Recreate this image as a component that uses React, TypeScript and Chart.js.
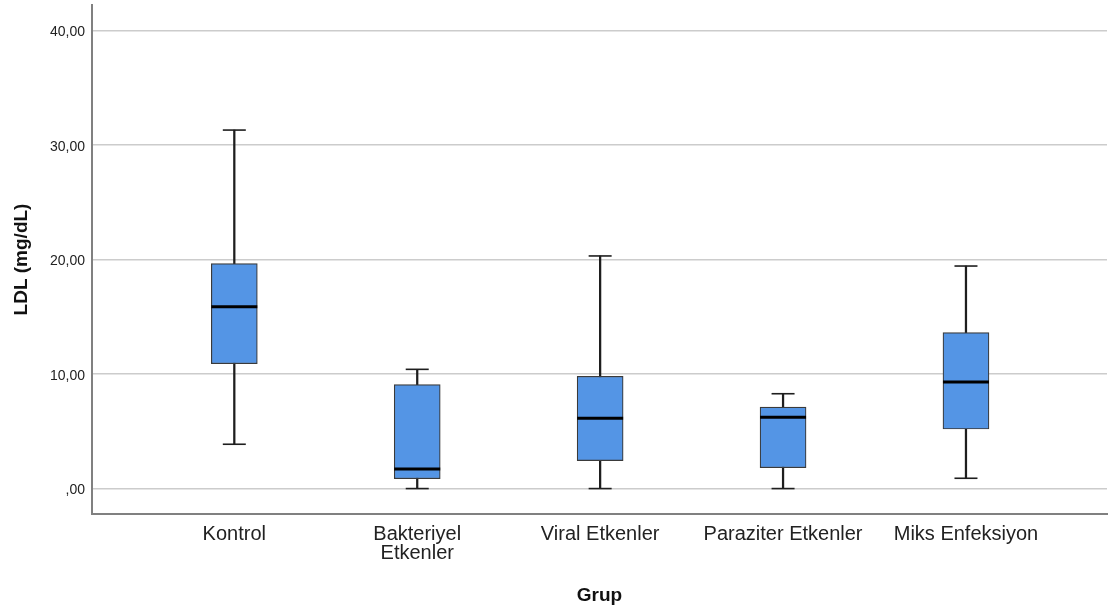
import React, { useEffect, useRef } from "react";
import { Chart, registerables } from "chart.js";

Chart.register(...registerables);

const CATEGORIES = ["Kontrol", "Bakteriyel\nEtkenler", "Viral Etkenler", "Paraziter Etkenler", "Miks Enfeksiyon"];
const MIN_VALUES = [3.87, 0, 0, 0, 0.9];
const Q1_VALUES = [10.9, 0.86, 2.44, 1.82, 5.2];
const MEDIAN_VALUES = [15.88, 1.71, 6.14, 6.22, 9.31];
const Q3_VALUES = [19.64, 9.07, 9.8, 7.12, 13.61];
const MAX_VALUES = [31.3, 10.41, 20.31, 8.28, 19.43];
const Y_TICKS = [0, 10, 20, 30, 40];
const Y_TICK_LABELS = [",00", "10,00", "20,00", "30,00", "40,00"];

const BOX_WIDTH = 46;
const CAP_WIDTH = 23;
const TEXT_COLOR = "#222222";
const FONT = "'Liberation Sans', Arial, sans-serif";

const boxExtras = {
  id: "boxExtras",
  afterDatasetsDraw(chart: any) {
    const { ctx } = chart;
    const x = chart.scales.x;
    const y = chart.scales.y;
    ctx.save();
    CATEGORIES.forEach((_, i) => {
      const px = x.getPixelForValue(i);
      ctx.strokeStyle = "#1e1e1e";
      ctx.lineWidth = 1.6;
      [MIN_VALUES[i], MAX_VALUES[i]].forEach((v) => {
        const py = y.getPixelForValue(v);
        ctx.beginPath();
        ctx.moveTo(px - CAP_WIDTH / 2, py);
        ctx.lineTo(px + CAP_WIDTH / 2, py);
        ctx.stroke();
      });
      const my = y.getPixelForValue(MEDIAN_VALUES[i]);
      ctx.strokeStyle = "#000000";
      ctx.lineWidth = 3;
      ctx.beginPath();
      ctx.moveTo(px - BOX_WIDTH / 2, my);
      ctx.lineTo(px + BOX_WIDTH / 2, my);
      ctx.stroke();
    });
    ctx.restore();
  },
};

export default function App() {
  const ref = useRef<HTMLCanvasElement | null>(null);

  useEffect(() => {
    if (!ref.current) return;
    const chart = new Chart(ref.current, {
      type: "bar",
      data: {
        datasets: [
          {
            label: "box",
            data: CATEGORIES.map((_, i) => ({ x: i, y: [Q1_VALUES[i], Q3_VALUES[i]] })) as any,
            backgroundColor: "#5495e5",
            borderColor: "#3a3a3a",
            borderWidth: 1.2,
            borderSkipped: false,
            barThickness: BOX_WIDTH,
            grouped: false,
            order: 0,
          },
          {
            label: "whisker",
            data: CATEGORIES.map((_, i) => ({ x: i, y: [MIN_VALUES[i], MAX_VALUES[i]] })) as any,
            backgroundColor: "#1e1e1e",
            borderWidth: 0,
            barThickness: 1.6,
            grouped: false,
            order: 1,
          },
        ],
      },
      options: {
        responsive: false,
        animation: false,
        layout: { padding: { top: 5, right: 3, left: 0, bottom: 0 } },
        plugins: {
          legend: { display: false },
          tooltip: { enabled: false },
        },
        scales: {
          x: {
            type: "linear",
            offset: false,
            min: -0.778,
            max: 4.771,
            afterBuildTicks: (scale: any) => {
              scale.ticks = CATEGORIES.map((_, i) => ({ value: i }));
            },
            afterFit: (scale: any) => {
              scale.height = 92;
              scale.paddingLeft = 0;
              scale.paddingRight = 0;
            },
            grid: { display: false, drawTicks: false, offset: false },
            border: { display: true, color: "#808080", width: 2 },
            ticks: {
              autoSkip: false,
              maxRotation: 0,
              minRotation: 0,
              padding: 11,
              color: TEXT_COLOR,
              font: { family: FONT, size: 20, lineHeight: 0.95 },
              callback: (v: any) => {
                const lbl = CATEGORIES[v as number];
                return lbl ? lbl.split("\n") : "";
              },
            },
            title: {
              display: true,
              text: "Grup",
              color: "#111111",
              font: { family: FONT, size: 19, weight: "bold", lineHeight: 1 },
              padding: { top: 0, bottom: 0.5 },
            },
          },
          y: {
            type: "linear",
            min: -2.22,
            max: 42.22,
            afterBuildTicks: (scale: any) => {
              scale.ticks = Y_TICKS.map((v) => ({ value: v }));
            },
            afterFit: (scale: any) => {
              scale.width = 92;
              scale.paddingTop = 0;
              scale.paddingBottom = 0;
            },
            grid: { color: "#cccccc", lineWidth: 1.5, drawTicks: false },
            border: { display: true, color: "#808080", width: 2 },
            ticks: {
              padding: 7,
              labelOffset: 2,
              color: TEXT_COLOR,
              font: { family: FONT, size: 14 },
              callback: (_v: any, index: number) => Y_TICK_LABELS[index],
            },
            title: {
              display: true,
              text: "LDL (mg/dL)",
              color: "#111111",
              font: { family: FONT, size: 19, weight: "bold", lineHeight: 1 },
              padding: { top: 12.5, bottom: 0 },
            },
          },
        },
      },
      plugins: [boxExtras],
    });
    return () => chart.destroy();
  }, []);

  return (
    <div style={{ position: "fixed", left: 0, top: 0, width: 1110, height: 606, background: "#ffffff" }}>
      <canvas ref={ref} width={1110} height={606} />
    </div>
  );
}
